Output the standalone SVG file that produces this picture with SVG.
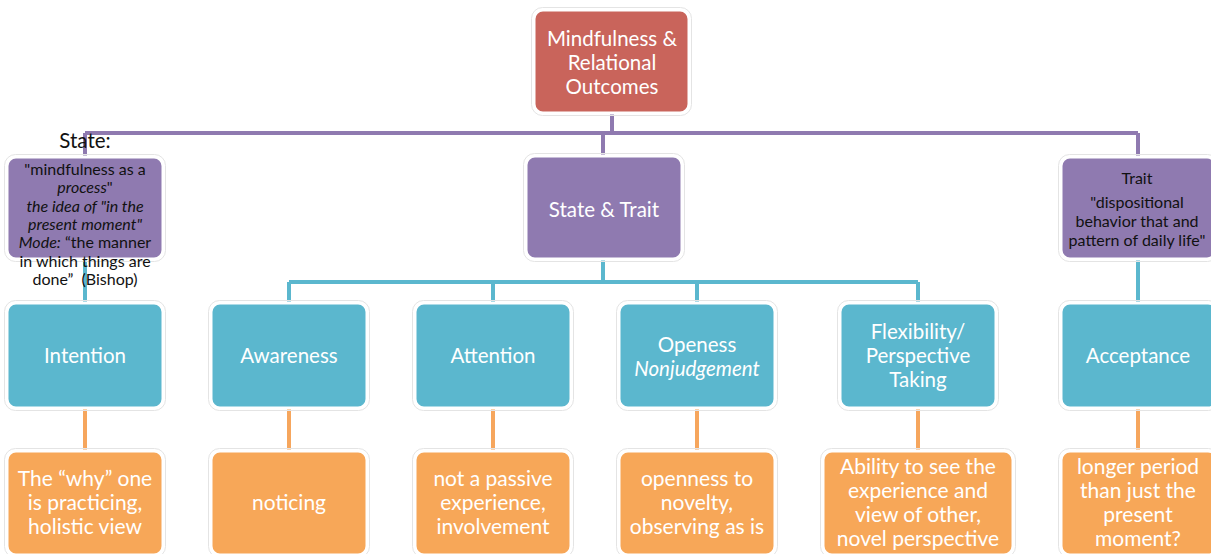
<svg xmlns="http://www.w3.org/2000/svg" width="1211" height="554" viewBox="0 0 1211 554">
<style>
.box{stroke:#ffffff;stroke-width:3}
.halo{fill:none;stroke:#e4e4e4;stroke-width:1}
.red{fill:#C9645B}
.pur{fill:#8F7AB0}
.teal{fill:#5BB7CE}
.org{fill:#F7A758}
.t{font-family:Lato,"Liberation Sans",sans-serif;text-anchor:middle;fill:#ffffff;font-size:20.5px}
.o{font-size:21px}
.d{font-family:Lato,"Liberation Sans",sans-serif;text-anchor:middle;fill:#111111;font-size:16px}
.i{font-style:italic}
.cp{stroke:#8F7AB0;stroke-width:4;fill:none}
.ct{stroke:#5BB7CE;stroke-width:4;fill:none}
.co{stroke:#F6A65D;stroke-width:4;fill:none}
</style>
<rect width="1211" height="554" fill="#ffffff"/>
<g id="connectors">
<path class="cp" d="M612 112V133M85 133H1138M85 133V158M603 133V157M1138 133V157"/>
<path class="ct" d="M603 258V282M289 282H918M289 282V303M493 282V303M697 282V303M918 282V303M85 258V303M1138 258V303"/>
<path class="co" d="M85 407V451M289 407V451M493 407V451M697 407V451M918 407V451M1138 407V451"/>
</g>
<g id="n-root">
<rect x="531.5" y="7.5" width="160" height="108" rx="11" class="halo"/>
<rect x="534" y="10" width="155" height="103" rx="9" class="box red"/>
<text class="t" x="612" y="46">Mindfulness &amp;</text>
<text class="t" x="612" y="70">Relational</text>
<text class="t" x="612" y="94">Outcomes</text>
</g>
<g id="n-state-trait">
<rect x="523.5" y="153.5" width="161" height="108" rx="11" class="halo"/>
<rect x="526" y="156" width="156" height="103" rx="9" class="box pur"/>
<text class="t" x="604" y="217">State &amp; Trait</text>
</g>
<g id="n-state">
<rect x="4.5" y="154.5" width="161" height="107" rx="11" class="halo"/>
<rect x="7" y="157" width="156" height="102" rx="9" class="box pur"/>
<text class="d" x="85" y="148" style="font-size:20.5px">State:</text>
<text class="d" x="85" y="175">"mindfulness as a</text>
<text class="d" x="85" y="193"><tspan class="i">process</tspan>"</text>
<text class="d i" x="85" y="212">the idea of "in the</text>
<text class="d i" x="85" y="230">present moment"</text>
<text class="d" x="85" y="248"><tspan class="i">Mode:</tspan> “the manner</text>
<text class="d" x="85" y="267">in which things are</text>
<text class="d" x="85" y="285" xml:space="preserve">done”  (Bishop)</text>
</g>
<g id="n-trait">
<rect x="1058.5" y="154.5" width="160" height="107" rx="11" class="halo"/>
<rect x="1061" y="157" width="155" height="102" rx="9" class="box pur"/>
<text class="d" x="1137" y="184">Trait</text>
<text class="d" x="1137" y="208">"dispositional</text>
<text class="d" x="1137" y="227">behavior that and</text>
<text class="d" x="1137" y="246">pattern of daily life"</text>
</g>
<g id="n-intention">
<rect x="4.5" y="300.5" width="161" height="110" rx="11" class="halo"/>
<rect x="7" y="303" width="156" height="105" rx="9" class="box teal"/>
<text class="t" x="85" y="363">Intention</text>
</g>
<g id="n-awareness">
<rect x="208.5" y="300.5" width="161" height="110" rx="11" class="halo"/>
<rect x="211" y="303" width="156" height="105" rx="9" class="box teal"/>
<text class="t" x="289" y="363">Awareness</text>
</g>
<g id="n-attention">
<rect x="412.5" y="300.5" width="161" height="110" rx="11" class="halo"/>
<rect x="415" y="303" width="156" height="105" rx="9" class="box teal"/>
<text class="t" x="493" y="363">Attention</text>
</g>
<g id="n-openness">
<rect x="616.5" y="300.5" width="161" height="110" rx="11" class="halo"/>
<rect x="619" y="303" width="156" height="105" rx="9" class="box teal"/>
<text class="t" x="697" y="352">Openess</text>
<text class="t i" x="697" y="376">Nonjudgement</text>
</g>
<g id="n-flexibility">
<rect x="837.5" y="300.5" width="161" height="110" rx="11" class="halo"/>
<rect x="840" y="303" width="156" height="105" rx="9" class="box teal"/>
<text class="t" x="918" y="339">Flexibility/</text>
<text class="t" x="918" y="363">Perspective</text>
<text class="t" x="918" y="387">Taking</text>
</g>
<g id="n-acceptance">
<rect x="1058.5" y="300.5" width="161" height="110" rx="11" class="halo"/>
<rect x="1061" y="303" width="156" height="105" rx="9" class="box teal"/>
<text class="t" x="1138" y="363">Acceptance</text>
</g>
<g id="n-why">
<rect x="4.5" y="448.5" width="161" height="109" rx="11" class="halo"/>
<rect x="7" y="451" width="156" height="104" rx="9" class="box org"/>
<text class="t o" x="85" y="486">The “why” one</text>
<text class="t o" x="85" y="510">is practicing,</text>
<text class="t o" x="85" y="534">holistic view</text>
</g>
<g id="n-noticing">
<rect x="208.5" y="448.5" width="161" height="109" rx="11" class="halo"/>
<rect x="211" y="451" width="156" height="104" rx="9" class="box org"/>
<text class="t o" x="289" y="510">noticing</text>
</g>
<g id="n-passive">
<rect x="412.5" y="448.5" width="161" height="109" rx="11" class="halo"/>
<rect x="415" y="451" width="156" height="104" rx="9" class="box org"/>
<text class="t o" x="493" y="486">not a passive</text>
<text class="t o" x="493" y="510">experience,</text>
<text class="t o" x="493" y="534">involvement</text>
</g>
<g id="n-novelty">
<rect x="616.5" y="448.5" width="161" height="109" rx="11" class="halo"/>
<rect x="619" y="451" width="156" height="104" rx="9" class="box org"/>
<text class="t o" x="697" y="486">openness to</text>
<text class="t o" x="697" y="510">novelty,</text>
<text class="t o" x="697" y="534">observing as is</text>
</g>
<g id="n-ability">
<rect x="820.5" y="448.5" width="195" height="109" rx="11" class="halo"/>
<rect x="823" y="451" width="190" height="104" rx="9" class="box org"/>
<text class="t o" x="918" y="474">Ability to see the</text>
<text class="t o" x="918" y="498">experience and</text>
<text class="t o" x="918" y="522">view of other,</text>
<text class="t o" x="918" y="546">novel perspective</text>
</g>
<g id="n-longer">
<rect x="1058.5" y="448.5" width="161" height="109" rx="11" class="halo"/>
<rect x="1061" y="451" width="156" height="104" rx="9" class="box org"/>
<text class="t o" x="1138" y="474">longer period</text>
<text class="t o" x="1138" y="498">than just the</text>
<text class="t o" x="1138" y="522">present</text>
<text class="t o" x="1138" y="546">moment?</text>
</g>
</svg>
